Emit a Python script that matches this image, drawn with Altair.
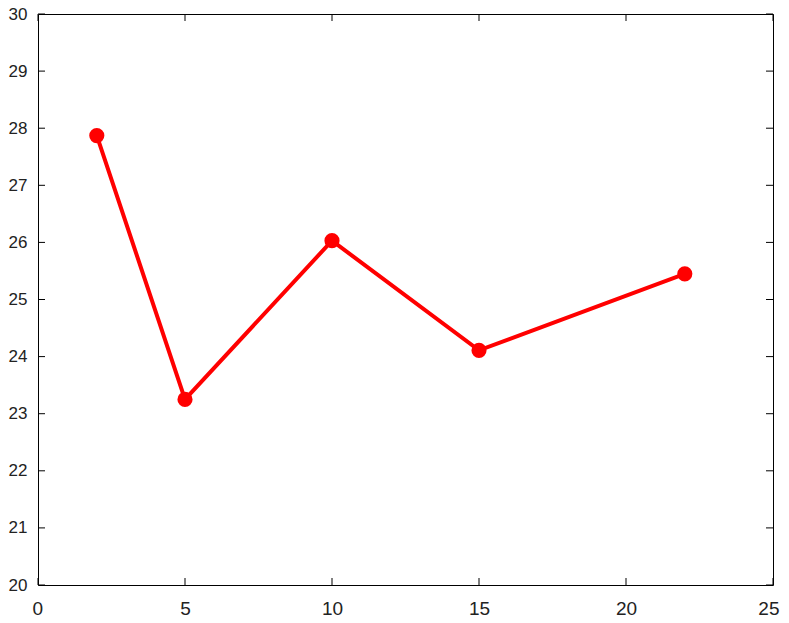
import altair as alt
import pandas as pd

# data
x_vals = [2, 5, 10, 15, 22]
y_vals = [27.87, 23.25, 26.03, 24.11, 25.45]
x_ticks = [0, 5, 10, 15, 20, 25]
y_ticks = [20, 21, 22, 23, 24, 25, 26, 27, 28, 29, 30]

df = pd.DataFrame({"x": x_vals, "y": y_vals})
dfx = pd.DataFrame({"t": x_ticks})
dfy = pd.DataFrame({"t": y_ticks})

xs = alt.Scale(domain=[0, 25], nice=False, zero=False)
ys = alt.Scale(domain=[20, 30], nice=False, zero=False)

FONT = "Liberation Sans"
LBL = "#222222"

xaxis = alt.Axis(values=x_ticks, title=None, format="d", labelPadding=14,
                 labelFontSize=19, labelFlush=True, labelFlushOffset=6, labelOverlap=False)
yaxis = alt.Axis(values=y_ticks, title=None, format="d", labelPadding=11,
                 labelFontSize=17, labelFlush=False, labelOverlap=False)

line = alt.Chart(df).mark_line(color="#ff0000", strokeWidth=4).encode(
    x=alt.X("x:Q", scale=xs, axis=xaxis),
    y=alt.Y("y:Q", scale=ys, axis=yaxis),
)
pts = alt.Chart(df).mark_point(color="#ff0000", filled=True, opacity=1, size=230).encode(
    x=alt.X("x:Q", scale=xs, axis=xaxis),
    y=alt.Y("y:Q", scale=ys, axis=yaxis),
)

TC = "#000000"
xt_bottom = alt.Chart(dfx).mark_tick(orient="vertical", size=7, thickness=1, color=TC,
                                     yOffset=-3.5, opacity=1).encode(
    x=alt.X("t:Q", scale=xs, axis=xaxis), y=alt.datum(20, scale=ys, axis=yaxis))
xt_top = alt.Chart(dfx).mark_tick(orient="vertical", size=7, thickness=1, color=TC,
                                  yOffset=3.5, opacity=1).encode(
    x=alt.X("t:Q", scale=xs, axis=xaxis), y=alt.datum(30, scale=ys, axis=yaxis))
yt_left = alt.Chart(dfy).mark_tick(orient="horizontal", size=7, thickness=1, color=TC,
                                   xOffset=3.5, opacity=1).encode(
    y=alt.Y("t:Q", scale=ys, axis=yaxis), x=alt.datum(0, scale=xs, axis=xaxis))
yt_right = alt.Chart(dfy).mark_tick(orient="horizontal", size=7, thickness=1, color=TC,
                                    xOffset=-3.5, opacity=1).encode(
    y=alt.Y("t:Q", scale=ys, axis=yaxis), x=alt.datum(25, scale=xs, axis=xaxis))

chart = alt.layer(line, xt_bottom, xt_top, yt_left, yt_right, pts).properties(
    width=735, height=571,
    autosize=alt.AutoSizeParams(type="none"),
    padding={"left": 30, "top": 6, "right": 8, "bottom": 36},
).configure_view(stroke="#000000", strokeWidth=1).configure_axis(
    ticks=False, domain=False, grid=False,
    labelFont=FONT, labelColor=LBL,
)

chart.save("out.html", embed_options={"renderer": "svg", "actions": False})
